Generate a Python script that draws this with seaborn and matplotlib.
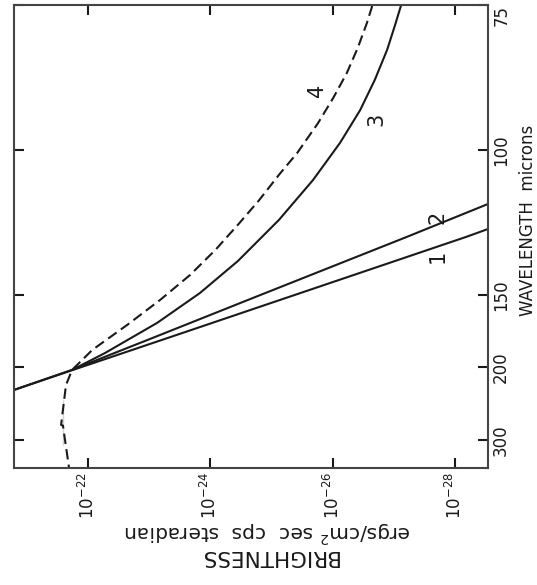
import numpy as np
import pandas as pd
import matplotlib
matplotlib.use("Agg")
import matplotlib.pyplot as plt
import seaborn as sns
from matplotlib.ticker import FixedLocator, NullLocator, FixedFormatter

# ---- data (wavelength in microns, brightness as log10 exponent) ----
c1_wave = [225, 202, 175, 150, 125, 121]
c1_logb = [-20.71, -21.77, -23.38, -25.38, -28.18, -28.70]

c2_wave = [225, 202, 175, 150, 125, 113]
c2_logb = [-20.71, -21.75, -23.12, -24.82, -27.21, -28.70]

c3_wave = [202.3, 187.5, 166.0, 149.0, 134.3, 119.2, 107.4, 98.4, 91.6, 86.1, 81.3, 77.7, 75.0, 74.4]
c3_logb = [-21.74, -22.28, -23.13, -23.83, -24.45, -25.12, -25.68, -26.12, -26.45, -26.69, -26.89, -27.02, -27.12, -27.13]

c4_wave = [395.5, 371.8, 310.7, 271.9, 235.1, 217.5, 202.3, 185.1, 167.3, 152.6, 140.3, 129.9,
           120.8, 113.0, 106.1, 100.7, 94.2, 89.3, 85.0, 81.0, 77.4, 75.3, 74.4]
c4_logb = [-21.70, -21.69, -21.59, -21.56, -21.59, -21.64, -21.74, -22.07, -22.64, -23.18, -23.67, -24.08,
           -24.45, -24.80, -25.12, -25.42, -25.76, -26.01, -26.23, -26.41, -26.56, -26.64, -26.66]

curve_labels = ["1", "2", "3", "4"]
label_wave = [132.5, 118.2, 93.5, 87.9]
label_logb = [-27.72, -27.72, -26.72, -25.74]

wave_ticks = [75, 100, 150, 200, 300]
wave_ticklabels = ["75", "100", "150", "200", "300"]
bright_exps = [-22, -24, -26, -28]
bright_ticklabels = [r"10$^{-22}$", r"10$^{-24}$", r"10$^{-26}$", r"10$^{-28}$"]

# ---- figure ----
sns.set_style("white")
plt.rcParams["font.family"] = ["DejaVu Sans"]
plt.rcParams["mathtext.default"] = "regular"

fig = plt.figure(figsize=(5.37, 5.85), dpi=100)
ax = fig.add_axes([14 / 537, (585 - 468) / 585, (488 - 14) / 537, (468 - 5) / 585])

ink = "#1a1a1a"
curves = [
    (c1_wave, c1_logb, "-"),
    (c2_wave, c2_logb, "-"),
    (c3_wave, c3_logb, "-"),
    (c4_wave, c4_logb, "--"),
]
for w, lb, ls in curves:
    df = pd.DataFrame({"brightness": 10.0 ** np.array(lb), "wavelength": w})
    sns.lineplot(data=df, x="brightness", y="wavelength", sort=False, ax=ax,
                 color=ink, lw=1.5)
    ln = ax.lines[-1]
    ln.set_solid_joinstyle("round")
    if ls == "--":
        ln.set_dashes((5, 2.5))


def fwd(l):
    l = np.asarray(l, dtype=float)
    with np.errstate(divide="ignore", invalid="ignore"):
        return np.where(l > 0, 1.0 / np.where(l > 0, l, 1.0), 1e6)


def inv(f):
    f = np.asarray(f, dtype=float)
    with np.errstate(divide="ignore", invalid="ignore"):
        return np.where(f > 0, 1.0 / np.where(f > 0, f, 1.0), 1e6)


ax.set_xscale("log")
ax.set_yscale("function", functions=(fwd, inv))
ax.set_xlim(10 ** -20.79, 10 ** -28.54)
ax.set_ylim(75, 372)

ax.xaxis.set_major_locator(FixedLocator([10.0 ** e for e in bright_exps]))
ax.xaxis.set_major_formatter(FixedFormatter(bright_ticklabels))
ax.xaxis.set_minor_locator(NullLocator())
ax.yaxis.set_major_locator(FixedLocator(wave_ticks))
ax.yaxis.set_major_formatter(FixedFormatter(wave_ticklabels))
ax.yaxis.set_minor_locator(NullLocator())

ax.tick_params(axis="both", which="major", direction="in", length=7, width=1.5,
               color=ink, labelsize=12, labelcolor=ink,
               top=True, bottom=True, left=True, right=True,
               labelleft=False, labelright=True, labelbottom=True, labeltop=False)
ax.tick_params(axis="y", pad=3)
ax.tick_params(axis="x", pad=3)
for lab in ax.get_xticklabels():
    lab.set_rotation(90)
for i, lab in enumerate(ax.get_yticklabels()):
    lab.set_rotation(90)
    lab.set_va("top" if i == 0 else "center")

for sp in ax.spines.values():
    sp.set_visible(True)
    sp.set_color("#444444")
    sp.set_linewidth(1.5)

ax.set_xlabel("")
ax.set_ylabel("")

for t, w, lb in zip(curve_labels, label_wave, label_logb):
    ax.text(10.0 ** lb, w, t, rotation=90, ha="center", va="center",
            fontsize=15, color=ink)

fig.text(528 / 537, 1 - 220 / 585, "WAVELENGTH  microns", rotation=90,
         ha="center", va="center", fontsize=12, color=ink)
fig.text(268 / 537, 1 - 532 / 585, r"ergs/cm$^2$ sec  cps  steradian", rotation=180,
         ha="center", va="center", fontsize=14.5, color=ink)
fig.text(268 / 537, 1 - 556 / 585, "BRIGHTNESS", rotation=180,
         ha="center", va="center", fontsize=15.5, color=ink)

fig.savefig("out.png", dpi=100)
